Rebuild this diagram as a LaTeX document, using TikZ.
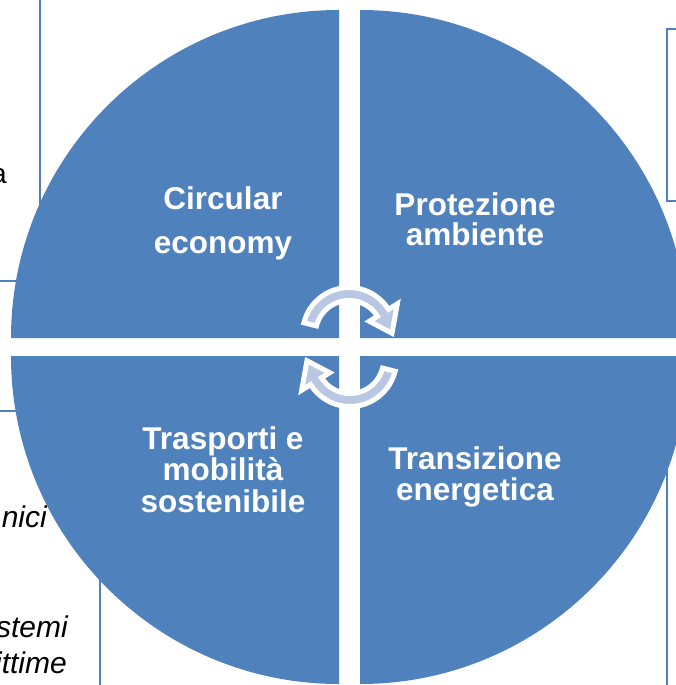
\documentclass[tikz,border=0pt]{standalone}
\usepackage{fontspec}
\setmainfont{Liberation Sans}
\definecolor{qblue}{RGB}{79,129,189}
\definecolor{arrowfill}{RGB}{185,199,226}
\definecolor{boxline}{RGB}{79,129,189}
\newcommand{\qlines}[2]{\vtop{\baselineskip=#1\lineskiplimit=-100pt\lineskip=0pt\halign{\hfil##\hfil\cr#2\crcr}}}
\tikzset{
  quadrant/.style={fill=qblue},
  sidebox/.style={draw=boxline, line width=1.6pt, fill=white},
  cyclearrow/.style={fill=arrowfill, draw=white, line width=5pt, line join=miter},
  quadlabel/.style={text=white, font=\fontsize{31.5}{31.5}\selectfont\bfseries, anchor=base, inner sep=0pt},
  sidetext/.style={text=black, font=\fontsize{30}{30}\selectfont\itshape, anchor=base east, inner sep=0pt},
  sidetextup/.style={text=black, font=\fontsize{28}{28}\selectfont, anchor=base east, inner sep=0pt}
}
\begin{document}
\begin{tikzpicture}[x=1pt,y=-1pt]
\useasboundingbox (0,0) rectangle (676,685);
\clip (0,0) rectangle (676,685);
% background boxes (partly hidden)
\draw[sidebox] (-10,-10) rectangle (40,281);
\draw[sidebox] (-10,411) rectangle (100,700);
\draw[sidebox] (667,29) rectangle (700,201);
\draw[sidebox] (667,430) rectangle (700,700);
% side texts
\node[sidetextup] (ta) at (7,183) {a};
\node[sidetext] (tnici) at (47,527) {nici};
\node[sidetext] (tstemi) at (68,637) {stemi};
\node[sidetext] (tittime) at (67,673) {ittime};
% quadrants
\fill[quadrant] (339,338) -- (11,338) arc[start angle=180,end angle=270,radius=328] -- cycle;
\fill[quadrant] (360,338) -- (360,10) arc[start angle=270,end angle=360,radius=328] -- cycle;
\fill[quadrant] (360,356) -- (688,356) arc[start angle=0,end angle=90,radius=328] -- cycle;
\fill[quadrant] (339,356) -- (339,684) arc[start angle=90,end angle=180,radius=328] -- cycle;
% cycle arrows
\begin{scope}[shift={(349,334)}]
  \draw[cyclearrow] (194:46.5) arc[start angle=194,end angle=328,radius=46.5]
    -- (328:57) -- (359:43) -- (328:24) -- (328:33.5)
    arc[start angle=328,end angle=194,radius=33.5] -- cycle;
\end{scope}
\begin{scope}[shift={(350,360)}]
  \draw[cyclearrow] (14:46.5) arc[start angle=14,end angle=148,radius=46.5]
    -- (148:57) -- (179:43) -- (148:24) -- (148:33.5)
    arc[start angle=148,end angle=14,radius=33.5] -- cycle;
\end{scope}
% labels
\node[quadlabel] (circ) at (223,209) {\qlines{44pt}{Circular\cr economy}};
\node[quadlabel] (prot) at (475,215) {\qlines{30.5pt}{Protezione\cr ambiente}};
\node[quadlabel] (trasp) at (223,449) {\qlines{31.5pt}{Trasporti e\cr mobilità\cr sostenibile}};
\node[quadlabel] (trans) at (475,469) {\qlines{31pt}{Transizione\cr energetica}};
\end{tikzpicture}
\end{document}
